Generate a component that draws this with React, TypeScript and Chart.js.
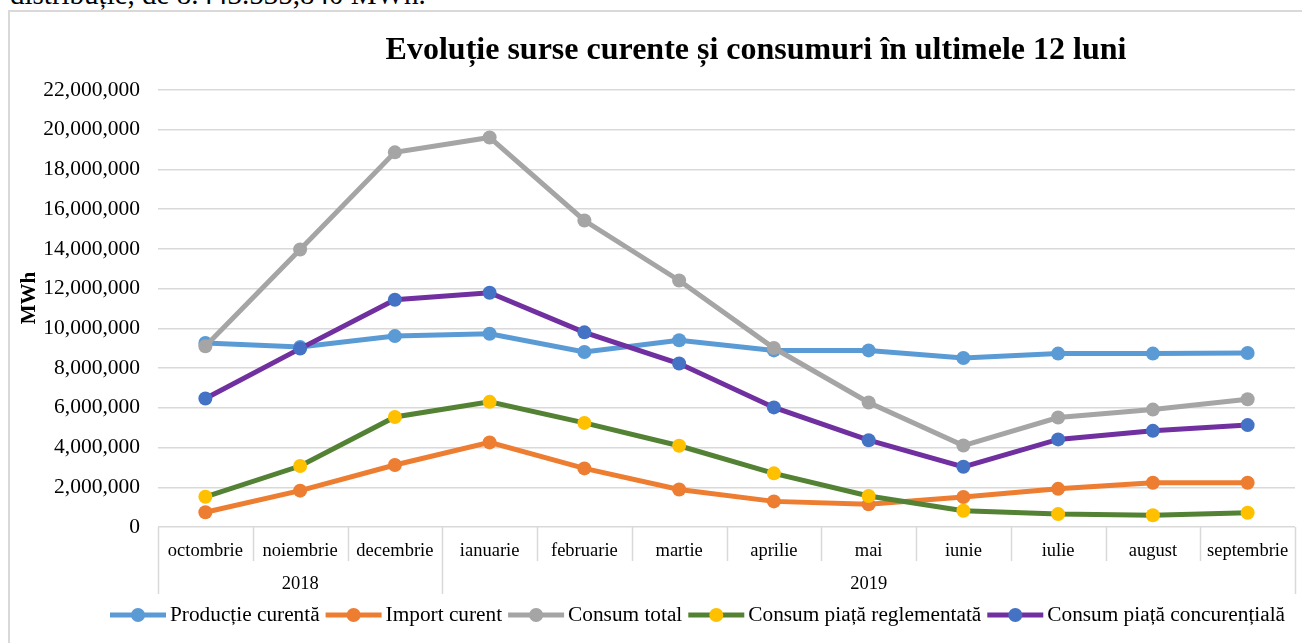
import React, { useEffect, useRef } from 'react';
import { Chart, registerables } from 'chart.js';

Chart.register(...registerables);

const introText = 'distribuție, de 8.443.535,840 MWh.';
const chartTitle = 'Evoluție surse curente și consumuri în ultimele 12 luni';
const yAxisTitle = 'MWh';

const months = [
  'octombrie', 'noiembrie', 'decembrie', 'ianuarie', 'februarie', 'martie',
  'aprilie', 'mai', 'iunie', 'iulie', 'august', 'septembrie',
];
const yearLabels = ['2018', '2019'];
const yearMonthCounts = [3, 9];

const seriesNames = [
  'Producție curentă',
  'Import curent',
  'Consum total',
  'Consum piață reglementată',
  'Consum piață concurențială',
];

const productieCurenta = [9260000, 9060000, 9610000, 9730000, 8810000, 9400000, 8890000, 8890000, 8510000, 8730000, 8730000, 8760000];
const importCurent = [740000, 1830000, 3120000, 4260000, 2950000, 1890000, 1290000, 1140000, 1510000, 1920000, 2230000, 2230000];
const consumTotal = [9100000, 13970000, 18860000, 19610000, 15430000, 12410000, 9010000, 6270000, 4100000, 5510000, 5910000, 6430000];
const consumReglementata = [1520000, 3070000, 5540000, 6300000, 5240000, 4090000, 2700000, 1560000, 820000, 650000, 590000, 720000];
const consumConcurentiala = [6470000, 8980000, 11440000, 11790000, 9800000, 8230000, 6020000, 4370000, 3030000, 4410000, 4840000, 5130000];

const yMin = 0;
const yMax = 22000000;
const yStep = 2000000;

const lineColors = ['#5B9BD5', '#ED7D31', '#A5A5A5', '#548235', '#7030A0'];
const markerColors = ['#5B9BD5', '#ED7D31', '#A5A5A5', '#FFC000', '#4472C4'];

const FONT = '"Liberation Serif", "Times New Roman", Times, serif';
const W = 1292;
const H = 631;

const seriesData = [productieCurenta, importCurent, consumTotal, consumReglementata, consumConcurentiala];

const customDraw = {
  id: 'customDraw',
  afterDraw(chart: any) {
    const ctx = chart.ctx as CanvasRenderingContext2D;
    const xs = chart.scales.x;
    const area = chart.chartArea;
    const half = (xs.getPixelForValue(1) - xs.getPixelForValue(0)) / 2;
    ctx.save();

    // category separators
    ctx.strokeStyle = '#d9d9d9';
    ctx.lineWidth = 1.5;
    const yearBounds: number[] = [0];
    let acc = 0;
    yearMonthCounts.forEach((c) => { acc += c; yearBounds.push(acc); });
    for (let i = 0; i <= months.length; i++) {
      const px = i < months.length ? xs.getPixelForValue(i) - half : xs.getPixelForValue(months.length - 1) + half;
      const long = yearBounds.includes(i);
      ctx.beginPath();
      ctx.moveTo(Math.round(px) + 0.5, area.bottom);
      ctx.lineTo(Math.round(px) + 0.5, area.bottom + (long ? 67 : 34));
      ctx.stroke();
    }

    // month labels
    ctx.fillStyle = '#000';
    ctx.font = `18.5px ${FONT}`;
    ctx.textAlign = 'center';
    ctx.textBaseline = 'middle';
    months.forEach((m, i) => {
      ctx.fillText(m, xs.getPixelForValue(i), area.bottom + 24);
    });
    // year labels
    yearLabels.forEach((y, k) => {
      const a = xs.getPixelForValue(yearBounds[k]) - half;
      const b = xs.getPixelForValue(yearBounds[k + 1] - 1) + half;
      ctx.fillText(y, (a + b) / 2, area.bottom + 57);
    });

    // title
    ctx.font = `bold 32px ${FONT}`;
    ctx.textBaseline = 'alphabetic';
    ctx.fillText(chartTitle, 746, 47);

    // y axis title
    ctx.save();
    ctx.translate(20, 286);
    ctx.rotate(-Math.PI / 2);
    ctx.font = `bold 21px ${FONT}`;
    ctx.textBaseline = 'middle';
    ctx.fillText(yAxisTitle, 0, 0);
    ctx.restore();

    // legend
    ctx.font = `21.3px ${FONT}`;
    ctx.textAlign = 'left';
    ctx.textBaseline = 'middle';
    let lx = 100;
    const ly = 603;
    seriesNames.forEach((name, i) => {
      ctx.strokeStyle = lineColors[i];
      ctx.lineWidth = 5;
      ctx.beginPath();
      ctx.moveTo(lx, ly);
      ctx.lineTo(lx + 56, ly);
      ctx.stroke();
      ctx.fillStyle = markerColors[i];
      ctx.beginPath();
      ctx.arc(lx + 28, ly, 7, 0, Math.PI * 2);
      ctx.fill();
      ctx.fillStyle = '#000';
      ctx.fillText(name, lx + 60, ly);
      lx += 60 + ctx.measureText(name).width + 6;
    });
    ctx.restore();
  },
};

export default function App() {
  const ref = useRef<HTMLCanvasElement | null>(null);

  useEffect(() => {
    if (!ref.current) return;
    const chart = new Chart(ref.current, {
      type: 'line',
      data: {
        labels: months,
        datasets: seriesNames.map((name, i) => ({
          label: name,
          data: seriesData[i],
          borderColor: lineColors[i],
          backgroundColor: markerColors[i],
          pointBackgroundColor: markerColors[i],
          pointBorderColor: markerColors[i],
          pointBorderWidth: 0,
          pointRadius: 7,
          borderWidth: 5,
          tension: 0,
          fill: false,
          order: seriesNames.length - i,
        })),
      },
      options: {
        animation: false,
        responsive: false,
        devicePixelRatio: 1,
        layout: { padding: { top: 78, left: 0, right: 0, bottom: 0 } },
        plugins: {
          legend: { display: false },
          title: { display: false },
          tooltip: { enabled: false },
        },
        scales: {
          x: {
            type: 'category',
            offset: true,
            grid: { display: false, drawTicks: false },
            border: { display: false },
            ticks: { display: false },
            afterFit: (s: any) => { s.height = 116; },
          },
          y: {
            min: yMin,
            max: yMax,
            grid: { color: '#d9d9d9', lineWidth: 1.5, drawTicks: false },
            border: { display: false },
            ticks: {
              stepSize: yStep,
              padding: 18,
              color: '#000',
              font: { family: FONT, size: 21.5 },
              callback: (v: any) => Number(v).toLocaleString('en-US'),
            },
            afterFit: (s: any) => { s.width = 148; },
          },
        },
      },
      plugins: [customDraw],
    });
    return () => chart.destroy();
  }, []);

  return (
    <>
      <div
        style={{
          position: 'absolute',
          left: 10,
          top: -20,
          fontFamily: FONT,
          fontSize: 29,
          lineHeight: '29px',
          whiteSpace: 'nowrap',
          color: '#000',
        }}
      >
        {introText}
      </div>
      <div
        style={{
          position: 'absolute',
          left: 8,
          top: 10,
          width: 1294,
          height: 633,
          boxSizing: 'border-box',
          borderLeft: '2px solid #d9d9d9',
          borderTop: '2px solid #d9d9d9',
          background: '#fff',
          overflow: 'hidden',
        }}
      >
        <canvas ref={ref} width={W} height={H} style={{ display: 'block', width: W, height: H }} />
      </div>
    </>
  );
}
